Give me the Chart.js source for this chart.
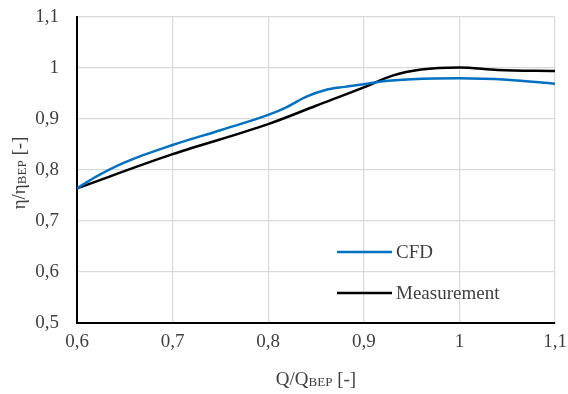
<!DOCTYPE html>
<html>
<head>
<meta charset="utf-8">
<script src="https://cdn.jsdelivr.net/npm/chart.js@4"></script>
<style>
  html, body { margin: 0; padding: 0; background: #fff; }
  #wrap { width: 568px; height: 394px; }
</style>
</head>
<body>
<div id="wrap"><canvas id="eff"></canvas></div>
<script>
// flow ratio Q/Q_BEP and efficiency ratio
const cfdQ   = [0.6, 0.62, 0.65, 0.7, 0.75, 0.8, 0.82, 0.84, 0.86, 0.88, 0.9, 0.92, 0.95, 1.0, 1.05, 1.1];
const cfdEta = [0.764, 0.787, 0.815, 0.849, 0.878, 0.908, 0.924, 0.944, 0.957, 0.963, 0.968, 0.974, 0.978, 0.980, 0.977, 0.969];

const measQ   = [0.6, 0.7, 0.8, 0.85, 0.9, 0.93, 0.96, 1.0, 1.04, 1.1];
const measEta = [0.764, 0.831, 0.890, 0.926, 0.962, 0.985, 0.997, 1.001, 0.996, 0.994];

const xTicks = [0.6, 0.7, 0.8, 0.9, 1.0, 1.1];
const yTicks = [0.5, 0.6, 0.7, 0.8, 0.9, 1.0, 1.1];

const seriesNames = ['CFD', 'Measurement'];
const seriesColors = ['#0070C0', '#000000'];

const FONT = '"Liberation Serif", "Times New Roman", serif';
const TEXT = '#404040';

const fmt = v => {
  const r = Math.round(v * 10) / 10;
  return (r === 1 ? '1' : r.toFixed(1)).replace('.', ',');
};

// draws text pieces like "Q/Q" + subscript "BEP" + " [-]"
function subText(ctx, parts, x, y) {
  let total = 0;
  parts.forEach(p => { ctx.font = p.size + 'px ' + FONT; total += ctx.measureText(p.t).width; });
  let cx = x - total / 2;
  parts.forEach(p => {
    ctx.font = p.size + 'px ' + FONT;
    ctx.fillText(p.t, cx, y + (p.dy || 0));
    cx += ctx.measureText(p.t).width;
  });
}

const extras = {
  id: 'extras',
  afterDraw(chart) {
    const ctx = chart.ctx;
    const a = chart.chartArea;
    ctx.save();
    ctx.fillStyle = TEXT;
    ctx.textBaseline = 'middle';
    ctx.textAlign = 'left';
    // x title
    subText(ctx, [{t: 'Q/Q', size: 19}, {t: 'BEP', size: 13, dy: 3}, {t: ' [-]', size: 19}],
      (a.left + a.right) / 2, 380);
    // y title
    ctx.translate(20, (a.top + a.bottom) / 2 + 3);
    ctx.rotate(-Math.PI / 2);
    subText(ctx, [{t: 'η/η', size: 19}, {t: 'BEP', size: 13, dy: 3}, {t: ' [-]', size: 19}], 0, 0);
    ctx.restore();

    // legend inside plot
    ctx.save();
    ctx.font = '19px ' + FONT;
    ctx.textBaseline = 'middle';
    chart.data.datasets.forEach((ds, i) => {
      const y = 252 + i * 41;
      ctx.strokeStyle = ds.borderColor;
      ctx.lineWidth = 2.5;
      ctx.beginPath();
      ctx.moveTo(337, y);
      ctx.lineTo(392, y);
      ctx.stroke();
      ctx.fillStyle = TEXT;
      ctx.fillText(ds.label, 396, y + 1);
    });
    ctx.restore();
  }
};

new Chart(document.getElementById('eff'), {
  type: 'line',
  data: {
    datasets: [
      {
        label: seriesNames[0],
        data: cfdQ.map((q, i) => ({x: q, y: cfdEta[i]})),
        borderColor: seriesColors[0],
        borderWidth: 2.5,
        pointRadius: 0,
        cubicInterpolationMode: 'monotone'
      },
      {
        label: seriesNames[1],
        data: measQ.map((q, i) => ({x: q, y: measEta[i]})),
        borderColor: seriesColors[1],
        borderWidth: 2.5,
        pointRadius: 0,
        cubicInterpolationMode: 'monotone'
      }
    ]
  },
  options: {
    responsive: true,
    maintainAspectRatio: false,
    animation: false,
    layout: { padding: { top: 17, right: 13, left: 0, bottom: 0 } },
    plugins: { legend: { display: false }, tooltip: { enabled: false } },
    scales: {
      x: {
        type: 'linear',
        min: 0.6, max: 1.1,
        afterBuildTicks: s => { s.ticks = xTicks.map(v => ({value: v})); },
        afterFit: s => { s.height = 71; s.paddingLeft = 0; s.paddingRight = 0; },
        grid: { color: '#d9d9d9', lineWidth: 1.2, drawTicks: false },
        border: { color: '#000', width: 2 },
        ticks: { padding: 8, color: TEXT, font: { family: FONT, size: 19 }, callback: v => fmt(v), maxRotation: 0 }
      },
      y: {
        min: 0.5, max: 1.1,
        afterBuildTicks: s => { s.ticks = yTicks.map(v => ({value: v})); },
        afterFit: s => { s.width = 77; s.paddingTop = 0; s.paddingBottom = 0; },
        grid: { color: '#d9d9d9', lineWidth: 1.2, drawTicks: false },
        border: { color: '#000', width: 2 },
        ticks: { padding: 18, color: TEXT, font: { family: FONT, size: 19 }, callback: v => fmt(v) }
      }
    }
  },
  plugins: [extras]
});
</script>
</body>
</html>
